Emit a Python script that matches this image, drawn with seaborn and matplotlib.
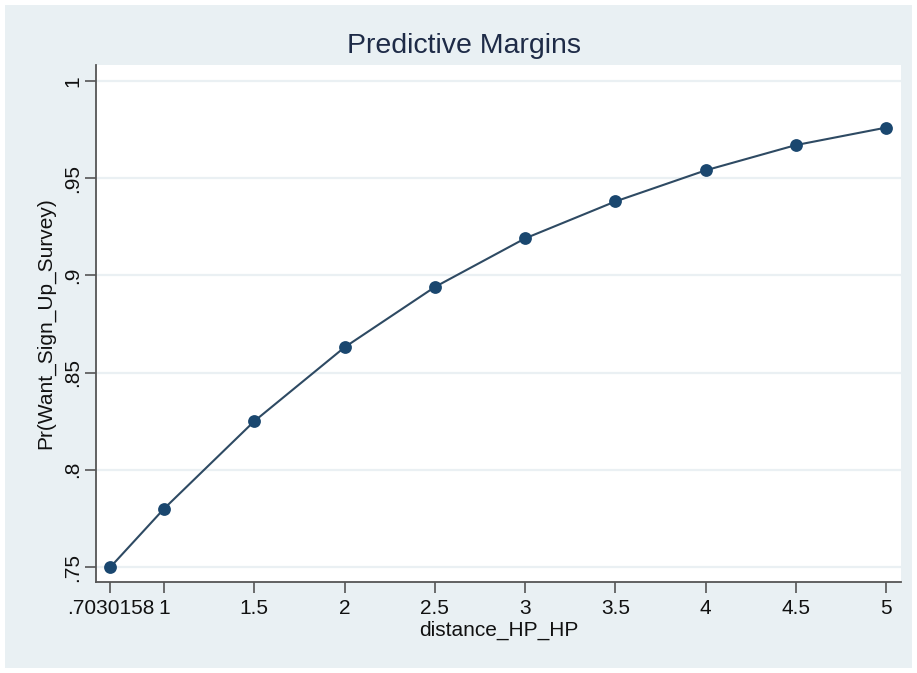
import matplotlib
matplotlib.use("Agg")
import matplotlib.pyplot as plt
import seaborn as sns
import pandas as pd
from matplotlib.patches import Rectangle

# Predicted probabilities at each distance value
distance = [0.7030158, 1.0, 1.5, 2.0, 2.5, 3.0, 3.5, 4.0, 4.5, 5.0]
pr_signup = [0.750, 0.780, 0.825, 0.863, 0.894, 0.919, 0.938, 0.954, 0.967, 0.976]

x_ticks = [0.7030158, 1.0, 1.5, 2.0, 2.5, 3.0, 3.5, 4.0, 4.5, 5.0]
x_tick_labels = [".7030158", "1", "1.5", "2", "2.5", "3", "3.5", "4", "4.5", "5"]
y_ticks = [0.75, 0.80, 0.85, 0.90, 0.95, 1.00]
y_tick_labels = [".75", ".8", ".85", ".9", ".95", "1"]

df = pd.DataFrame({"distance_HP_HP": distance, "Pr": pr_signup})

sns.set_theme(style="white")
plt.rcParams["font.family"] = ["Liberation Sans", "DejaVu Sans"]

W, H = 917, 673
fig = plt.figure(figsize=(W / 100, H / 100), dpi=100, facecolor="white")

# graph region background
fig.patches.append(Rectangle((5 / W, 5 / H), (912 - 5) / W, (668 - 5) / H,
                             transform=fig.transFigure, facecolor="#e9f0f3",
                             edgecolor="none", zorder=-10))

left, right, top, bottom = 96, 901, 65, 582
ax = fig.add_axes([left / W, (H - bottom) / H, (right - left) / W, (bottom - top) / H])
ax.set_facecolor("white")

navy = "#1a476f"
sns.lineplot(data=df, x="distance_HP_HP", y="Pr", ax=ax, color="#2e4a63",
             linewidth=1.5, zorder=3)
sns.scatterplot(data=df, x="distance_HP_HP", y="Pr", ax=ax, color=navy,
                s=85, edgecolor=navy, linewidth=0, zorder=4)

ax.set_xlim(0.623, 5.083)
ax.set_ylim(0.7423, 1.0082)

ax.set_xticks(x_ticks)
ax.set_xticklabels(x_tick_labels)
ax.set_yticks(y_ticks)
ax.set_yticklabels(y_tick_labels, rotation=90, va="center")

for s in ["top", "right"]:
    ax.spines[s].set_visible(False)
for s in ["left", "bottom"]:
    ax.spines[s].set_color("#555555")
    ax.spines[s].set_linewidth(1.3)

ax.tick_params(axis="both", which="major", direction="out", length=8,
               width=1.2, color="#555555", labelsize=15, labelcolor="#111111",
               bottom=True, left=True)
ax.tick_params(axis="x", pad=4)
ax.tick_params(axis="y", pad=2)

ax.yaxis.grid(True, color="#eaf0f3", linewidth=1.6)
ax.xaxis.grid(False)
ax.set_axisbelow(True)

ax.set_xlabel("distance_HP_HP", fontsize=15, color="#111111", labelpad=2)
ax.set_ylabel("Pr(Want_Sign_Up_Survey)", fontsize=15, color="#111111", labelpad=6)

fig.text(464 / W, 1 - 46 / H, "Predictive Margins", ha="center", va="center",
         fontsize=20.5, color="#1e2b47")

fig.savefig("out.png", dpi=100, facecolor=fig.get_facecolor())
